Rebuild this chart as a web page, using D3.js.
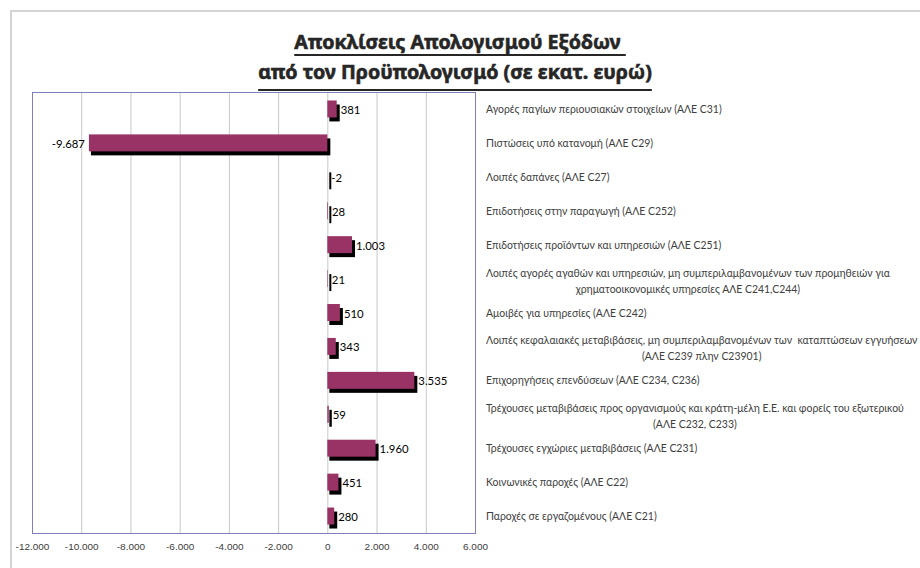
<!DOCTYPE html>
<html>
<head>
<meta charset="utf-8">
<script src="https://cdn.jsdelivr.net/npm/d3@7"></script>
<style>
  body { margin: 0; background: #fff; }
  svg { display: block; font-family: Lato, "Noto Sans", sans-serif; }
</style>
</head>
<body>
<svg id="chart" width="920" height="568"></svg>
<script>
// Categories, top to bottom (two-line labels split with "\n")
let categories = [
  "Αγορές παγίων περιουσιακών στοιχείων (ΑΛΕ C31)",
  "Πιστώσεις υπό κατανομή (ΑΛΕ C29)",
  "Λοιπές δαπάνες (ΑΛΕ C27)",
  "Επιδοτήσεις στην παραγωγή (ΑΛΕ C252)",
  "Επιδοτήσεις προϊόντων και υπηρεσιών (ΑΛΕ C251)",
  "Λοιπές αγορές αγαθών και υπηρεσιών, μη συμπεριλαμβανομένων των προμηθειών για\nχρηματοοικονομικές υπηρεσίες ΑΛΕ C241,C244)",
  "Αμοιβές για υπηρεσίες (ΑΛΕ C242)",
  "Λοιπές κεφαλαιακές μεταβιβάσεις, μη συμπεριλαμβανομένων των  καταπτώσεων εγγυήσεων\n(ΑΛΕ C239 πλην C23901)",
  "Επιχορηγήσεις επενδύσεων (ΑΛΕ C234, C236)",
  "Τρέχουσες μεταβιβάσεις προς οργανισμούς και κράτη-μέλη Ε.Ε. και φορείς του εξωτερικού\n(ΑΛΕ C232, C233)",
  "Τρέχουσες εγχώριες μεταβιβάσεις (ΑΛΕ C231)",
  "Κοινωνικές παροχές (ΑΛΕ C22)",
  "Παροχές σε εργαζομένους (ΑΛΕ C21)"
];

// Deviation, million euro
let deviations = [381, -9687, -2, 28, 1003, 21, 510, 343, 3535, 59, 1960, 451, 280];

let xTicks = [-12000, -10000, -8000, -6000, -4000, -2000, 0, 2000, 4000, 6000];

let titleLines = ["Αποκλίσεις Απολογισμού Εξόδων ", "από τον Προϋπολογισμό (σε εκατ. ευρώ)"];

let data = categories.map((c, i) => ({key: c, value: deviations[i]}));

// Greek number format: "." as thousands separator
let fmt = d3.formatLocale({decimal: ",", thousands: ".", grouping: [3], currency: ["", "€"], minus: "-"}).format(",d");

let svg = d3.select("#chart");
let plot = {left: 32, right: 475, top: 92, bottom: 533};
let titleFont = "'Noto Sans', sans-serif";

// pick a font size so that a sample string gets the width it has in the original (narrow font there)
function fitSize(str, weight, target, family) {
  let t = svg.append("text")
    .style("font-size", "20px")
    .style("font-weight", weight)
    .style("font-family", family || null)
    .style("white-space", "pre")
    .text(str);
  let w = t.node().getComputedTextLength();
  t.remove();
  return 20 * target / w;
}

let labelSize = fitSize(categories[0], 400, 236);
let tickSize = fitSize("-12.000", 400, 35);
let valueSize = fitSize("1.003", 400, 29);
let titleSize = fitSize(titleLines[1], 700, 394, titleFont);

let x = d3.scaleLinear()
  .domain([-12000, 6000])
  .range([plot.left, plot.right]);

let y = d3.scaleBand()
  .domain(categories)
  .range([plot.top, plot.bottom])
  .paddingInner(0.5)
  .paddingOuter(0.25);

// outer chart border (only left and top show)
svg.append("path")
  .attr("d", "M11,568 V11 H920")
  .attr("fill", "none")
  .attr("stroke", "#d4d4d4")
  .attr("stroke-width", 2);

// gridlines
svg.append("g")
  .selectAll("line")
  .data(xTicks.slice(1, -1))
  .join("line")
    .attr("x1", d => x(d) + 0.5)
    .attr("x2", d => x(d) + 0.5)
    .attr("y1", plot.top)
    .attr("y2", plot.bottom)
    .attr("stroke", "#c8c8c8");

// plot frame
svg.append("rect")
  .attr("x", plot.left + 0.5)
  .attr("y", plot.top + 0.5)
  .attr("width", plot.right - plot.left)
  .attr("height", plot.bottom - plot.top)
  .attr("fill", "none")
  .attr("stroke", "#7f7fbb");

// x axis labels, no axis line
let xAxis = svg.append("g")
  .attr("transform", `translate(0,${plot.bottom + 10})`)
  .call(d3.axisBottom(x).tickValues(xTicks).tickFormat(fmt).tickSize(0).tickPadding(0));
xAxis.select(".domain").remove();
xAxis.selectAll("text")
  .attr("fill", "#404040")
  .attr("font-family", null)
  .style("font-size", tickSize + "px");

let barH = y.bandwidth();

// shadow behind bars
svg.append("g")
  .selectAll("rect")
  .data(data)
  .join("rect")
    .attr("x", d => Math.min(x(d.value), x(0)) + 2)
    .attr("y", d => y(d.key) + 4)
    .attr("width", d => Math.max(Math.abs(x(d.value) - x(0)), 1) + 1)
    .attr("height", barH)
    .attr("fill", "#000");

// bars
svg.append("g")
  .selectAll("rect")
  .data(data)
  .join("rect")
    .attr("x", d => Math.min(x(d.value), x(0)))
    .attr("y", d => y(d.key))
    .attr("width", d => Math.abs(x(d.value) - x(0)))
    .attr("height", barH)
    .attr("fill", "#993366");

// value labels
svg.append("g")
  .selectAll("text")
  .data(data)
  .join("text")
    .attr("x", d => d.value < -100 ? x(d.value) - 4 : Math.max(x(d.value), x(0)) + 4)
    .attr("y", d => y(d.key) + barH / 2 + 5)
    .attr("text-anchor", d => d.value < -100 ? "end" : "start")
    .attr("fill", "#000")
    .style("font-size", valueSize + "px")
    .text(d => fmt(d.value));

// category labels on the right
let labels = svg.append("g")
  .selectAll("text")
  .data(data)
  .join("text")
    .attr("fill", "#404040")
    .style("font-size", labelSize + "px")
    .style("white-space", "pre");

labels.each(function (d) {
  let lines = d.key.split("\n");
  let cy = y(d.key) + barH / 2;
  let t = d3.select(this);
  let first = t.append("tspan")
    .attr("x", 486)
    .attr("y", lines.length > 1 ? cy - 2 : cy + 4)
    .text(lines[0]);
  if (lines.length > 1) {
    let w = first.node().getComputedTextLength();
    t.append("tspan")
      .attr("x", 486 + w / 2)
      .attr("y", cy + 14)
      .attr("text-anchor", "middle")
      .text(lines[1]);
  }
});

// title, underlined
let title = svg.append("g")
  .attr("fill", "#262626");
let titleX = [460, 455];
let titleY = [49, 79];
let underY = [55, 90];
titleLines.forEach((line, i) => {
  let t = title.append("text")
    .attr("x", titleX[i])
    .attr("y", titleY[i])
    .attr("text-anchor", "middle")
    .attr("stroke", "#262626")
    .attr("stroke-width", 0.6)
    .style("font-family", titleFont)
    .style("font-size", titleSize + "px")
    .style("font-weight", 700)
    .style("white-space", "pre")
    .text(line);
  let w = t.node().getComputedTextLength();
  title.append("line")
    .attr("x1", titleX[i] - w / 2)
    .attr("x2", titleX[i] + w / 2)
    .attr("y1", underY[i])
    .attr("y2", underY[i])
    .attr("stroke", "#262626")
    .attr("stroke-width", 2);
});
</script>
</body>
</html>
